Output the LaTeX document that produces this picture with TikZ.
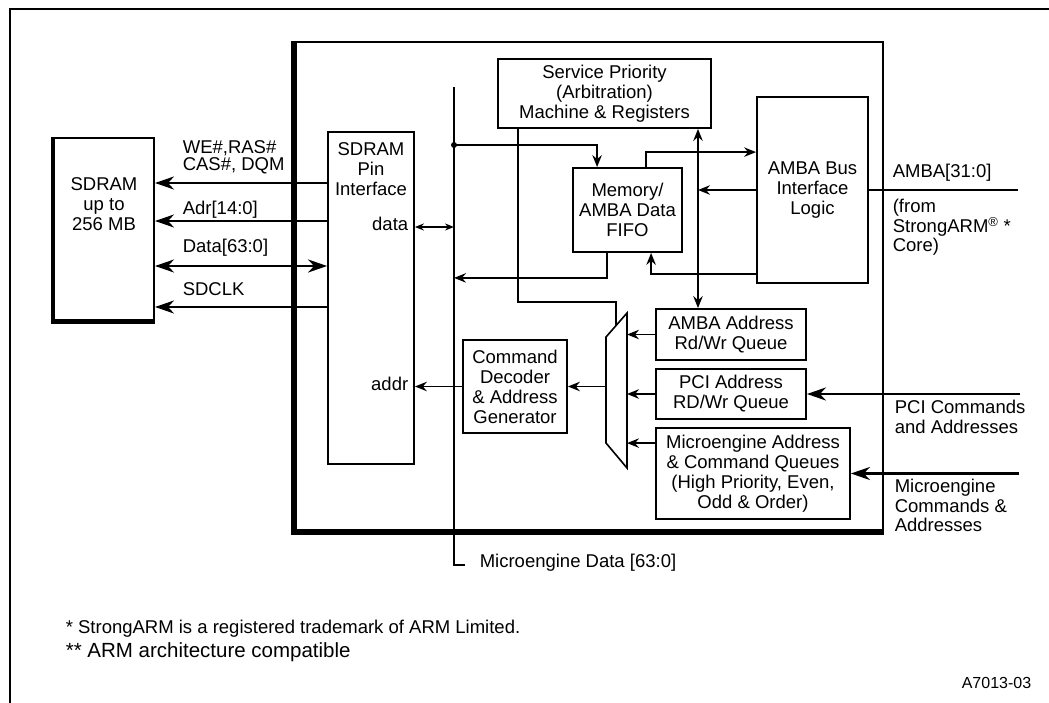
\documentclass[tikz,border=0pt]{standalone}
\usepackage{fontspec}
\setmainfont{Liberation Sans}
\usepackage{tikz}
\usetikzlibrary{arrows.meta}
\newcommand{\blockfont}{\fontsize{18.5}{20}\selectfont}
\tikzset{
	main node/.style={draw,line width=1.8pt,inner sep=0pt,align=center,font=\blockfont},
	label node/.style={inner sep=0pt,align=left,font=\blockfont},
	thin line/.style={line width=1.6pt},
	thick line/.style={line width=2.4pt},
	big tip/.style={>={Stealth[length=19pt,width=13pt,inset=6pt]}},
	small tip/.style={>={Stealth[length=12pt,width=9.5pt,inset=4pt]}}
}

\begin{document}
\begin{tikzpicture}[x=1pt,y=-1pt,thin line,small tip]
	\useasboundingbox (0,0) rectangle (1049,703);
	\draw[line width=2pt] (1049,9) -- (10,9) -- (10,703);
	\node [draw,line width=2.5pt,minimum width=587pt,minimum height=488pt] (chip) at (589.5,286) {};
	\draw[line width=5pt] ([xshift=-1pt]chip.north west) |- ([yshift=-1pt]chip.south east);
	\node [main node,line width=2pt,minimum width=100pt,minimum height=182pt] (sdram) at (104,229) {};
	\draw[line width=3pt] ([xshift=-1pt]sdram.north west) |- ([yshift=-1pt]sdram.south east);
	\node [label node,align=center] (sdramtxt) at (104,204) {SDRAM\\up to\\256 MB};
	\node [main node,minimum width=86pt,minimum height=332pt] (pin) at (371,298) {};
	\node [label node,align=center] (pintxt) at (371,169) {SDRAM\\Pin\\Interface};
	\node [label node,anchor=east] (datatxt) at (409,223.5) {data};
	\node [label node,anchor=east] (addrtxt) at (409,383.5) {addr};
	\node [main node,minimum width=213pt,minimum height=69pt] (svc) at (604.5,93.5) {Service Priority\\(Arbitration)\\Machine \& Registers};
	\node [main node,minimum width=109pt,minimum height=84pt] (fifo) at (627.5,210) {Memory/\\AMBA Data\\FIFO};
	\node [main node,minimum width=111pt,minimum height=186pt] (ambabus) at (812.5,190) {AMBA Bus\\Interface\\Logic};
	\node [main node,minimum width=104pt,minimum height=93pt] (cmd) at (515,386.5) {Command\\Decoder\\\& Address\\Generator};
	\node [main node,minimum width=150pt,minimum height=51pt] (aaq) at (731,334.5) {AMBA Address\\Rd/Wr Queue};
	\node [main node,minimum width=150pt,minimum height=50pt] (pcq) at (731,394) {PCI Address\\RD/Wr Queue};
	\node [main node,minimum width=194pt,minimum height=91pt] (meq) at (753,473.5) {Microengine Address\\\& Command Queues\\(High Priority, Even,\\Odd \& Order)};

	\coordinate (we) at (0,183);
	\coordinate (adr) at (0,221);
	\coordinate (dq) at (0,266);
	\coordinate (clk) at (0,307);
	\draw[thick line,big tip,->] (pin.west |- we) -- (sdram.east |- we);
	\draw[thick line,big tip,->] (pin.west |- adr) -- (sdram.east |- adr);
	\draw[thick line,big tip,<->] (sdram.east |- dq) -- (pin.west |- dq);
	\draw[thick line,big tip,->] (pin.west |- clk) -- (sdram.east |- clk);
	\node [label node,anchor=north west,font={\fontsize{18.5}{16.5}\selectfont}] (welbl) at (182,140) {WE\#,RAS\#\\CAS\#, DQM};
	\node [label node,anchor=base west] (adrlbl) at (182,215) {Adr[14:0]};
	\node [label node,anchor=base west] (dqlbl) at (182,253) {Data[63:0]};
	\node [label node,anchor=base west] (clklbl) at (182,295) {SDCLK};

	\coordinate (ambaend) at (1018,190);
	\coordinate (pciend) at (1020,394);
	\coordinate (meend) at (1019,473.5);
	\draw[thick line] (ambabus.east) -- (ambaend);
	\draw[thick line,big tip,->] (pciend) -- (pcq.east);
	\draw[thick line,big tip,->] (meend) -- (meq.east);
	\node [label node,anchor=base west] (ambalbl) at (892,178) {AMBA[31:0]};
	\node [label node,anchor=north west,font={\fontsize{18.5}{18.5}\selectfont}] (armlbl) at (892,198.5) {(from\\StrongARM\textsuperscript{®} *\\Core)};
	\node [label node,anchor=north west] (pcilbl) at (894,399.5) {PCI Commands\\and Addresses};
	\node [label node,anchor=north west,font={\fontsize{18.5}{19.5}\selectfont}] (melbl) at (894,478.5) {Microengine\\Commands \&\\Addresses};

	\coordinate (bustop) at (454,87);
	\coordinate (busbot) at (454,565);
	\coordinate (tap) at (454,145);
	\coordinate (xv) at (698,0);
	\coordinate (dl) at (0,227);
	\draw (bustop) -- (busbot) -- ++(11,0);
	\fill (tap) circle (3pt);
	\node [label node,anchor=base west] (medata) at (479,567) {Microengine Data [63:0]};
	\draw[<->,>={Stealth[length=9pt,width=7pt,inset=3pt]}] (pin.east |- dl) -- (bustop |- dl);
	\draw[->] (tap) -| ([xshift=25pt]fifo.north west);
	\draw[->] ([xshift=74pt]fifo.north west) |- ([yshift=-56pt]ambabus.north west);
	\draw[->] (ambabus.west) -- (ambabus.west -| xv);
	\draw[->] ([yshift=10pt]ambabus.south west) -| ([xshift=79pt]fifo.south west);
	\path ([xshift=35pt]fifo.south west) ++(0,25) coordinate (fbend);
	\draw[->] ([xshift=35pt]fifo.south west) -- (fbend) -- (fbend -| bustop);
	\draw[<->] (svc.south -| xv) -- (aaq.north -| xv);

	\coordinate (mlt) at (606,337);
	\coordinate (mlb) at (606,443);
	\coordinate (mrt) at (627,313);
	\coordinate (mrb) at (627,468);
	\coordinate (mtap) at (616,326);
	\draw (mlt) -- (mrt) -- (mrb) -- (mlb) -- cycle;
	\draw ([xshift=21pt]svc.south west) |- ([yshift=24pt]mtap) -- (mtap);
	\coordinate (mein) at ([yshift=-16pt]meq.north west);
	\draw[->] (aaq.west) -- (aaq.west -| mrt);
	\draw[->] (pcq.west) -- (pcq.west -| mrt);
	\draw[->] (mein) -- (mein -| mrt);
	\draw[->] (cmd.east -| mlt) -- (cmd.east);
	\draw[->] (cmd.west) -- (cmd.west -| pin.east);

	\node [anchor=base west,inner sep=0pt,font=\fontsize{18.5}{20}\selectfont] (note1) at (65,633) {* StrongARM is a registered trademark of ARM Limited.};
	\node [anchor=base west,inner sep=0pt,font=\fontsize{20.5}{22}\selectfont] (note2) at (65,657) {** ARM architecture compatible};
	\node [anchor=base east,inner sep=0pt,font=\fontsize{16}{18}\selectfont] (figid) at (1032,688) {A7013-03};
\end{tikzpicture}
\end{document}
